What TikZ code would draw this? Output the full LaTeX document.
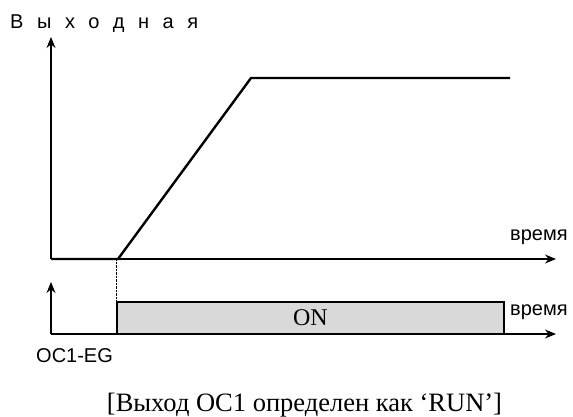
\documentclass[tikz,border=0pt]{standalone}
\usepackage{fontspec}
\setmainfont{Liberation Serif}
\newfontfamily\sanslab{Liberation Sans}
\newfontfamily\headlab[LetterSpace=68]{Liberation Sans}
\usetikzlibrary{arrows.meta, positioning, calc}

\tikzset{
  axis/.style={line width=1.3pt, -{Stealth[length=11pt, width=9pt]}},
  signal/.style={line width=2.4pt, line join=miter},
  lab/.style={font=\fontsize{20}{20}\selectfont\sanslab, inner sep=0pt},
  onbox/.style={draw, line width=1.3pt, fill=black!15, inner sep=0pt,
    font=\fontsize{24}{24}\selectfont},
}

\begin{document}
\begin{tikzpicture}[x=1pt, y=-1pt]
    \useasboundingbox (0,0) rectangle (573,416);

    % Upper axes
    \coordinate (O1) at (51,259);
    \coordinate (X1) at (556,259);
    \coordinate (Y1) at (51,37);
    \draw[axis] (O1) -- (X1);
    \draw[axis] (O1) -- (Y1);

    % Output curve
    \coordinate (c1) at (118,259);
    \coordinate (c2) at (251,78);
    \coordinate (c3) at (510,78);
    \draw[signal] (O1) -- (c1) -- (c2) -- (c3);

    % Lower axes
    \coordinate (O2) at (51,334);
    \coordinate (X2) at (556,334);
    \coordinate (Y2) at (51,282);
    \draw[axis] (O2) -- (X2);
    \draw[axis] (O2) -- (Y2);

    % ON pulse
    \node[onbox, minimum width=387pt, minimum height=32pt] (on) at (310.5,318) {ON};
    \draw[densely dotted, thin] (on.north west) -- (on.north west |- c1);

    % Labels
    \node[font=\fontsize{20}{20}\selectfont\headlab, inner sep=0pt, anchor=base west]
      (head) at (10,28) {Выходная};
    \node[lab, anchor=base west] (t1) at (510,240) {время};
    \node[lab, anchor=base west] (t2) at (510,315) {время};
    \node[lab, anchor=base west] (oc) at (36,362) {OC1-EG};
    \node[font=\fontsize{26.5}{26.5}\selectfont, inner sep=0pt, anchor=base]
      (cap) at (304.5,411) {[Выход OC1 определен как ‘RUN’]};
  \end{tikzpicture}
\end{document}
